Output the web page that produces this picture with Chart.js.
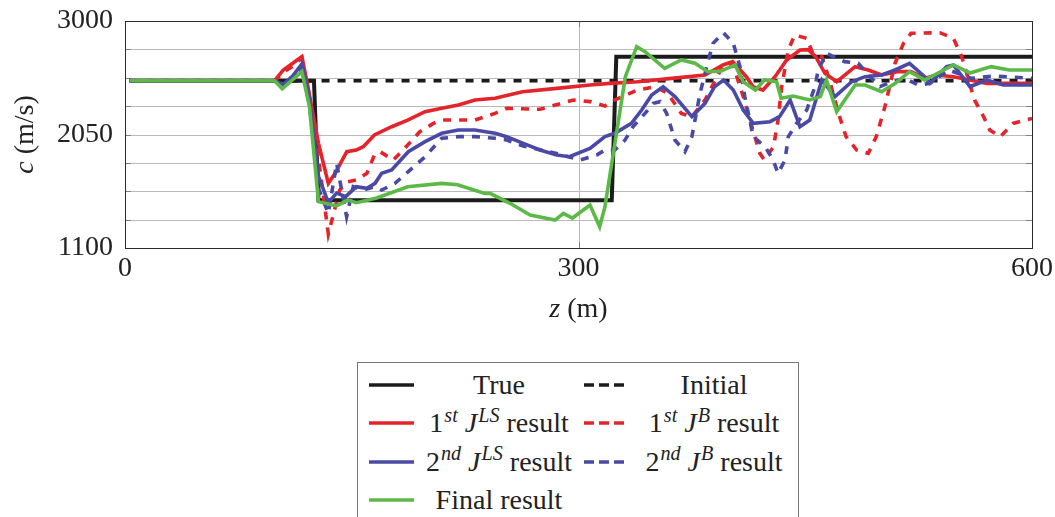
<!DOCTYPE html>
<html>
<head>
<meta charset="utf-8">
<script src="https://cdn.jsdelivr.net/npm/chart.js@4.4.0/dist/chart.umd.min.js"></script>
<style>
  html, body { margin:0; padding:0; background:#fff; width:1055px; height:517px; overflow:hidden; }
  #wrap { position:absolute; left:0; top:0; width:1055px; height:330px; }
  #legend { position:absolute; left:357px; top:362px; width:440px; height:170px; border:1px solid #7a7a7a; background:#fff;
            font-family:"Liberation Serif","Times New Roman",serif; font-size:28px; color:#222; }
  .item { position:absolute; height:39px; display:flex; align-items:center; }
  .item svg { flex:none; }
  .item span { display:inline-block; width:156px; margin-left:7px; text-align:center; white-space:nowrap; }
  sup { font-size:0.72em; vertical-align:0.5em; line-height:0; margin-left:1px; }
</style>
</head>
<body>
<div id="wrap"><canvas id="chart"></canvas></div>
<div id="legend"></div>
<script>
// axis setup
const zRange = [0, 600];
const cRange = [1100, 3000];
const zTicks = [0, 300, 600];
const cTicks = [1100, 1337.5, 1575, 1812.5, 2050, 2287.5, 2525, 2762.5, 3000];
const cTickLabels = [1100, 2050, 3000];
const xTitle = ['z', ' (m)'];
const yTitle = ['c', ' (m/s)'];

// series, [z, c] pairs
const trueModel = [[3,2500],[125,2500],[128,1500],[322,1500],[325,2700],[600,2700]];
const initialModel = [[3,2500],[600,2500]];
const firstLS = [[3,2500],[99,2500],[104.7,2590],[111,2646],[117,2702],[121,2450],[128,1976],[134.5,1641],[139,1725],
  [146.7,1906],[153,1920],[157.6,1948],[165,2046],[176.4,2115],[187,2171],[198.5,2241],[209.5,2269],[220.5,2297],
  [231.5,2339],[244.8,2353],[263,2408],[285.6,2436],[307.6,2464],[320.8,2478],[339,2492],[361.6,2520],[383.7,2548],
  [395.6,2632],[402,2660],[411,2534],[415.5,2450],[422,2422],[430,2534],[437.7,2674],[446.5,2757],[452,2760],
  [457,2700],[463,2562],[470.8,2492],[483,2618],[491.7,2590],[500.5,2548],[511,2576],[520,2576],[529,2520],
  [537,2548],[548,2534],[559,2506],[570,2478],[585,2478],[600,2478]];
const firstB = [[3,2500],[99,2500],[104.7,2570],[111,2620],[117,2690],[121,2420],[128,1850],[134.5,1217],[142,1585],
  [147.5,1655],[153,1669],[160,1725],[165,1878],[168.7,1906],[177.5,1836],[184,1920],[195,2073],[204,2143],
  [209.5,2171],[231.5,2171],[244.8,2227],[252.5,2269],[274.5,2261],[296.6,2339],[307.6,2325],[317.5,2289],
  [324,2339],[339,2422],[350.6,2450],[359,2395],[368,2227],[375,2199],[383.7,2339],[395.8,2632],[402,2640],
  [409,2367],[413.4,2171],[420,1892],[423,1836],[429,1948],[432,2171],[434.4,2450],[438.8,2757],[443,2883],
  [451,2855],[455,2730],[461,2702],[466,2506],[472,2227],[477,2032],[484,1920],[491.7,1892],[497,2032],
  [502.7,2283],[509.4,2646],[515,2813],[520,2897],[539,2902],[548,2855],[553.5,2702],[562,2339],[568,2199],
  [572,2088],[579,2032],[587.5,2143],[600,2185]];
const secondLS = [[3,2500],[99,2500],[104.7,2470],[111,2540],[117,2640],[122,2350],[128,1700],[134.5,1480],[140,1560],
  [146,1530],[153,1613],[160,1600],[165.4,1641],[169.8,1725],[176.4,1753],[187.4,1906],[198.5,1990],[209.5,2060],
  [220.5,2088],[231.5,2088],[244.8,2060],[252.5,2032],[263.5,1976],[274.5,1920],[285.6,1878],[294,1864],
  [307.6,1934],[317.5,2032],[324,2060],[335,2143],[341.8,2255],[348.4,2381],[356,2450],[363.8,2367],[375,2199],
  [383.7,2311],[390,2450],[396,2506],[402.4,2422],[409,2255],[415.6,2143],[426.7,2157],[433,2199],[440,2339],
  [446.5,2115],[453,2171],[461,2506],[469.7,2367],[480.7,2492],[489.5,2534],[500.5,2548],[509.4,2590],
  [519,2646],[529,2534],[532.5,2478],[543.5,2618],[548,2632],[559,2450],[570,2506],[581,2464],[600,2464]];
const secondB = [[3,2500],[99,2500],[104.7,2460],[111,2530],[117,2620],[122,2300],[128,1600],[134.5,1390],[140,1809],
  [146.6,1362],[151,1613],[157.6,1585],[165.4,1613],[169.8,1585],[178.6,1641],[187.4,1739],[198.5,1864],
  [209.5,2018],[220.5,2032],[231.5,2032],[244.8,2018],[252.5,2004],[263.5,1953],[285.6,1892],[301,1836],
  [312,1878],[317.5,1920],[324,1920],[330.8,2004],[336,2115],[344,2227],[349.5,2311],[354,2325],[358.3,2227],
  [363.8,2004],[370.4,1906],[375,2032],[380.4,2395],[386,2674],[389,2813],[395.8,2902],[402.4,2813],[406.8,2618],
  [410,2367],[415.6,2032],[423.4,1948],[428.8,1836],[432,1725],[436.6,1836],[438.8,2032],[444.3,2143],[451,2255],
  [456.4,2450],[458.6,2590],[464,2730],[468.5,2702],[476,2660],[485,2646],[492.8,2534],[499.4,2450],[507,2492],
  [516,2520],[524.8,2464],[532.5,2478],[545,2590],[560,2520],[575,2540],[600,2520]];
const finalResult = [[3,2500],[99,2500],[104,2433],[117,2576],[122,2283],[128,1488],[140,1452],[147.5,1502],[153,1479],
  [166.5,1518],[187,1613],[209.5,1641],[220,1630],[238,1557],[241.5,1557],[254.7,1474],[268,1376],[284.5,1334],
  [290,1390],[296,1351],[307.6,1460],[314,1278],[317.5,1446],[331,2534],[338.5,2785],[344,2743],[357,2604],
  [368,2674],[377,2646],[385.6,2576],[394,2580],[403.5,2632],[409,2492],[417,2422],[423,2506],[431,2492],
  [434,2353],[442,2372],[453,2339],[460,2367],[464,2506],[470.8,2241],[483,2464],[489.5,2464],[500.5,2408],
  [509.6,2478],[519,2576],[529,2506],[548,2632],[559,2565],[573,2618],[585,2590],[600,2590]];

const legendLabels = [
  'True', 'Initial',
  '1<sup><i>st</i></sup> <i>J</i><sup><i>LS</i></sup> result', '1<sup><i>st</i></sup> <i>J</i><sup><i>B</i></sup> result',
  '2<sup><i>nd</i></sup> <i>J</i><sup><i>LS</i></sup> result', '2<sup><i>nd</i></sup> <i>J</i><sup><i>B</i></sup> result',
  'Final result'
];

const RED = '#e3242b', BLUE = '#4a4aa6', GREEN = '#5cb947', BLACK = '#1c1c1c';
const SERIF = '"Liberation Serif", "Times New Roman", serif';

function series(pts, color, dashed, width) {
  return {
    data: pts.map(p => ({x: p[0], y: p[1]})),
    borderColor: color, backgroundColor: color,
    borderWidth: width || 3.6, borderDash: dashed ? [8, 8] : [],
    pointRadius: 0, tension: 0, fill: false
  };
}

const datasets = [
  series(trueModel, BLACK, false, 4),
  series(initialModel, BLACK, true, 3.6),
  series(firstLS, RED, false),
  series(firstB, RED, true),
  series(secondLS, BLUE, false),
  series(secondB, BLUE, true),
  series(finalResult, GREEN, false)
];
// later series on top, like the original
datasets.forEach((d, i) => { d.order = datasets.length - i; d.label = legendLabels[i].replace(/<[^>]+>/g, ''); });

function drawMixed(ctx, parts, cx, cy) {
  const fonts = parts.map((p, i) => (i === 0 ? 'italic ' : '') + '28px ' + SERIF);
  let total = 0;
  const widths = parts.map((p, i) => { ctx.font = fonts[i]; const w = ctx.measureText(p).width; total += w; return w; });
  let x = cx - total / 2;
  ctx.textAlign = 'left'; ctx.textBaseline = 'middle';
  parts.forEach((p, i) => { ctx.font = fonts[i]; ctx.fillText(p, x, cy); x += widths[i]; });
}

// grid lines + inner tick marks under the data
const gridPlugin = {
  id: 'gridlines',
  beforeDatasetsDraw(chart) {
    const {ctx, chartArea: a, scales: {x, y}} = chart;
    ctx.save();
    ctx.lineWidth = 1;
    ctx.strokeStyle = '#bababa';
    ctx.beginPath();
    cTicks.forEach(v => {
      const py = Math.round(y.getPixelForValue(v)) + 0.5;
      ctx.moveTo(a.left, py); ctx.lineTo(a.right, py);
    });
    zTicks.forEach(v => {
      const px = Math.round(x.getPixelForValue(v)) + 0.5;
      ctx.moveTo(px, a.top); ctx.lineTo(px, a.bottom);
    });
    ctx.stroke();
    ctx.strokeStyle = '#808080';
    ctx.beginPath();
    cTicks.forEach(v => {
      const py = Math.round(y.getPixelForValue(v)) + 0.5;
      ctx.moveTo(a.left, py); ctx.lineTo(a.left + 6, py);
      ctx.moveTo(a.right - 6, py); ctx.lineTo(a.right, py);
    });
    zTicks.forEach(v => {
      const px = Math.round(x.getPixelForValue(v)) + 0.5;
      ctx.moveTo(px, a.top); ctx.lineTo(px, a.top + 6);
      ctx.moveTo(px, a.bottom - 6); ctx.lineTo(px, a.bottom);
    });
    ctx.stroke();
    ctx.restore();
  }
};

const framePlugin = {
  id: 'frame',
  afterDraw(chart) {
    const {ctx, chartArea: a} = chart;
    ctx.save();
    ctx.lineWidth = 1;
    ctx.strokeStyle = '#2b2b2b';
    ctx.strokeRect(Math.round(a.left) + 0.5, Math.round(a.top) + 0.5, Math.round(a.right - a.left), Math.round(a.bottom - a.top));
    ctx.fillStyle = '#222';
    drawMixed(ctx, xTitle, (a.left + a.right) / 2, a.bottom + 62);
    ctx.translate(26, (a.top + a.bottom) / 2);
    ctx.rotate(-Math.PI / 2);
    drawMixed(ctx, yTitle, 0, 0);
    ctx.restore();
  }
};

function noPad(s) { s.paddingTop = 0; s.paddingBottom = 0; s.paddingLeft = 0; s.paddingRight = 0; }

new Chart(document.getElementById('chart').getContext('2d'), {
  type: 'line',
  data: { datasets },
  options: {
    responsive: true, maintainAspectRatio: false, animation: false,
    layout: { padding: { top: 21, right: 23, left: 0, bottom: 0 } },
    plugins: { legend: { display: false }, tooltip: { enabled: false } },
    scales: {
      x: {
        type: 'linear', min: zRange[0], max: zRange[1],
        afterBuildTicks: s => { s.ticks = zTicks.map(v => ({value: v})); },
        afterFit: s => { s.height = 82; noPad(s); },
        grid: { display: false, drawTicks: false },
        border: { color: '#2b2b2b' },
        ticks: { padding: 4, autoSkip: false, color: '#222', font: { family: SERIF, size: 28 }, maxRotation: 0,
                 callback: v => String(v) }
      },
      y: {
        type: 'linear', min: cRange[0], max: cRange[1],
        afterBuildTicks: s => { s.ticks = cTickLabels.map(v => ({value: v})); },
        afterFit: s => { s.width = 125; noPad(s); },
        grid: { display: false, drawTicks: false },
        border: { color: '#2b2b2b' },
        ticks: { padding: 12, autoSkip: false, color: '#222', font: { family: SERIF, size: 28 },
                 callback: v => String(v) }
      }
    }
  },
  plugins: [gridPlugin, framePlugin]
});

// legend, two columns like the original
const legend = document.getElementById('legend');
datasets.forEach((d, i) => {
  const row = Math.floor(i / 2), col = i % 2;
  const item = document.createElement('div');
  item.className = 'item';
  item.style.left = (col === 0 ? 11 : 226) + 'px';
  item.style.top = (2 + row * 38.5) + 'px';
  const dash = d.borderDash.length ? ' stroke-dasharray="10 5"' : '';
  item.innerHTML = '<svg width="45" height="10"><line x1="0" y1="5" x2="45" y2="5" stroke="' + d.borderColor +
    '" stroke-width="3.6"' + dash + '/></svg><span>' + legendLabels[i] + '</span>';
  legend.appendChild(item);
});
</script>
</body>
</html>
